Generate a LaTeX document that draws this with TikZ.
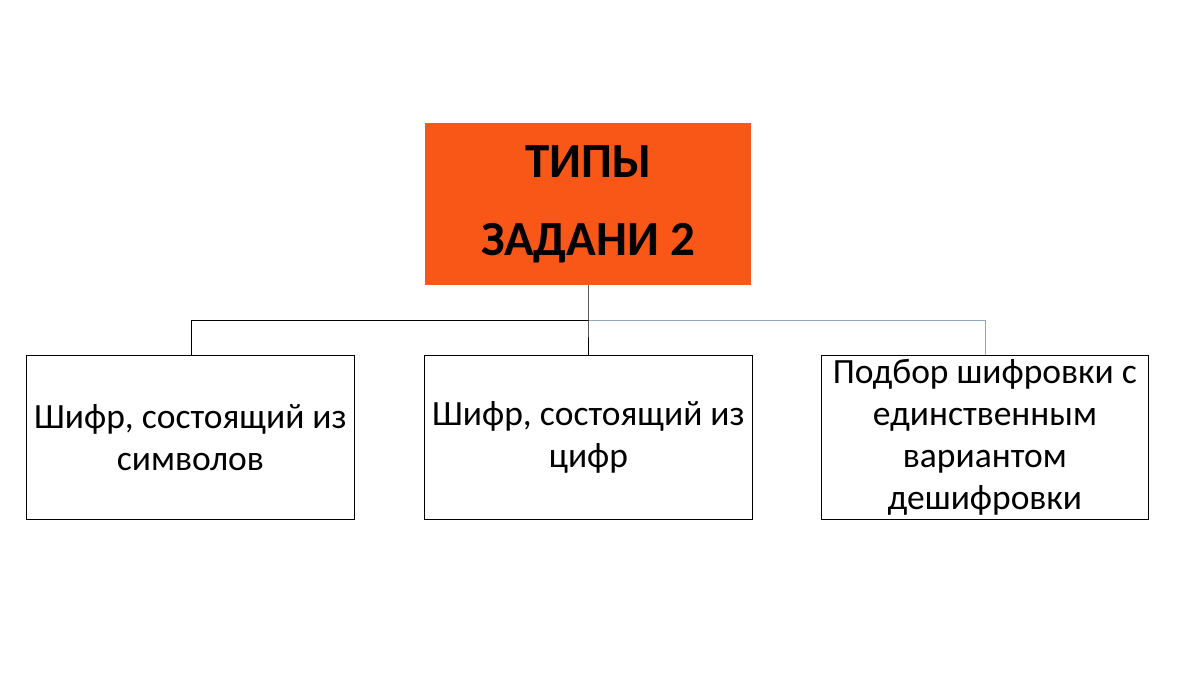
\documentclass[tikz,border=0pt]{standalone}
\usepackage{fontspec}
\setmainfont{Carlito}
\definecolor{org}{HTML}{F95718}
\definecolor{bl}{HTML}{8FA6BF}
\begin{document}
\begin{tikzpicture}[x=1pt,y=-1pt,
 box/.style={draw=black,line width=0.8pt,minimum width=328pt,minimum height=164pt,inner sep=0pt,align=center,anchor=north west,font=\fontsize{35.5}{42}\selectfont}]
\useasboundingbox (0,0) rectangle (1200,675);
\node[anchor=north west,fill=org,minimum width=326pt,minimum height=162pt,inner sep=0pt,align=center,font=\bfseries\fontsize{49}{78}\selectfont] (top) at (425,123) {ТИПЫ\\ЗАДАНИ 2};
\node[box] (a) at (26,355) {Шифр, состоящий из\\символов};
\node[box] (b) at (424,355) {Шифр, состоящий из\\цифр};
\node[box,minimum width=327pt] (c) at (821,355) {Подбор шифровки с\\единственным\\вариантом\\дешифровки};
\coordinate (j) at (588,320);
\draw[bl,line width=0.8pt] (j) -- (985,320) -- (c.north -| 985,0);
\draw[line width=0.8pt] (top.south -| j) -- (j) -- (b.north -| j);
\draw[line width=0.8pt] (j) -- (191,320) -- (a.north -| 191,0);
\end{tikzpicture}
\end{document}
